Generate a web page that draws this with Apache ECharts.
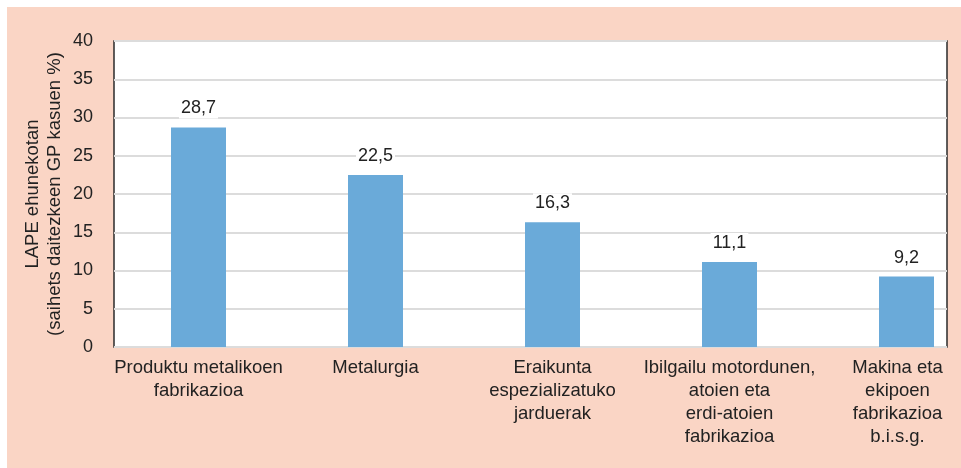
<!DOCTYPE html>
<html>
<head>
<meta charset="utf-8">
<script src="https://cdn.jsdelivr.net/npm/echarts@6/dist/echarts.min.js"></script>
<style>
  html, body { margin: 0; padding: 0; background: #fff; }
  #chart {
    width: 961px;
    height: 468px;
    background: #fad5c5;
    box-shadow: inset 7px 7px 0 #fff;
  }
</style>
</head>
<body>
<div id="chart"></div>
<script>
// sektoreak eta LAPE ehunekoak
var categories = [
  'Produktu metalikoen\nfabrikazioa',
  'Metalurgia',
  'Eraikunta\nespezializatuko\njarduerak',
  'Ibilgailu motordunen,\natoien eta\nerdi-atoien\nfabrikazioa',
  'Makina eta\nekipoen\nfabrikazioa\nb.i.s.g.'
];
var values = [28.7, 22.5, 16.3, 11.1, 9.2];
var yTicks = [0, 5, 10, 15, 20, 25, 30, 35, 40];

var font = 'Liberation Sans, Arial, sans-serif';
var chart = echarts.init(document.getElementById('chart'));

var option = {
  backgroundColor: 'transparent',
  textStyle: { fontFamily: font },
  grid: [
    // kutxa eta y ardatza
    {
      left: 114, top: 41, width: 833, height: 306, outerBoundsMode: 'none',
      show: true, backgroundColor: '#fff', borderColor: '#2b2b2b', borderWidth: 1.5
    },
    // barrak (zabalera handiagoa, jatorrizkoan bezala)
    { left: 110, top: 41, width: 885, height: 306, outerBoundsMode: 'none' }
  ],
  xAxis: [
    { type: 'category', gridIndex: 0, data: [''], show: false },
    {
      type: 'category', gridIndex: 1, data: categories,
      axisLine: { show: false }, axisTick: { show: false },
      axisLabel: {
        margin: 9, color: '#222', fontSize: 18.5, lineHeight: 23, fontFamily: font,
        interval: 0,
        formatter: function (v, i) {
          if (i === 4) {
            return v.split('\n').map(function (s) { return '{s|' + s + '}'; }).join('\n');
          }
          return v;
        },
        rich: { s: { padding: [0, 18, 0, 0], fontSize: 18.5, lineHeight: 23, color: '#222', fontFamily: font } }
      }
    }
  ],
  yAxis: [
    {
      type: 'value', gridIndex: 0, min: yTicks[0], max: yTicks[yTicks.length - 1], interval: 5,
      axisLine: { show: false }, axisTick: { show: false },
      axisLabel: { margin: 21, color: '#222', fontSize: 18, fontFamily: font },
      splitLine: { show: true, lineStyle: { color: '#dcdcdc', width: 2 } },
      name: 'LAPE ehunekotan\n(saihets daitezkeen GP kasuen %)',
      nameLocation: 'middle', nameRotate: 90, nameGap: 48, nameMoveOverlap: false,
      nameTextStyle: { color: '#222', fontSize: 18.5, lineHeight: 22, fontFamily: font }
    },
    { type: 'value', gridIndex: 1, min: 0, max: 40, show: false }
  ],
  series: [
    {
      type: 'bar', xAxisIndex: 1, yAxisIndex: 1,
      data: values, barWidth: 55,
      itemStyle: { color: '#6aaad9' },
      label: {
        show: true, position: 'top', distance: 9,
        color: '#222', fontSize: 18, fontFamily: font,
        backgroundColor: '#fff', padding: [1, 2],
        formatter: function (p) { return String(p.value).replace('.', ','); }
      }
    }
  ]
};

chart.setOption(option);
</script>
</body>
</html>
